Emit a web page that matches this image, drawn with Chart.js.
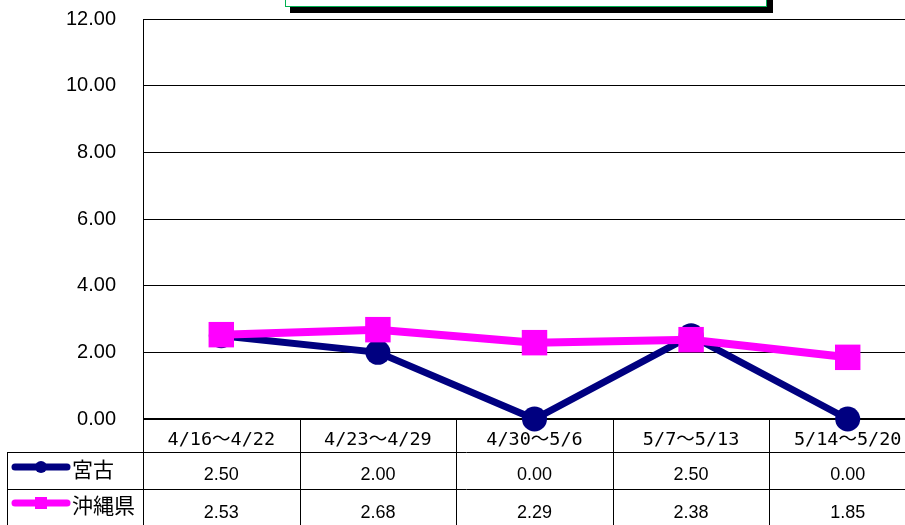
<!DOCTYPE html>
<html><head><meta charset="utf-8">
<script src="https://cdn.jsdelivr.net/npm/chart.js@4/dist/chart.umd.min.js"></script>
<style>
html,body{margin:0;padding:0;background:#fff;overflow:hidden}
#wrap{width:905px;height:525px;overflow:hidden;position:relative;background:#fff}
canvas{position:absolute;left:0;top:0}
</style></head>
<body><div id="wrap"><canvas id="c" width="926" height="525" style="width:926px;height:525px"></canvas></div>
<script>
const categories = ['4/16～4/22', '4/23～4/29', '4/30～5/6', '5/7～5/13', '5/14～5/20'];
const seriesNames = ['宮古', '沖縄県'];
const miyako = [2.50, 2.00, 0.00, 2.50, 0.00];
const okinawa = [2.53, 2.68, 2.29, 2.38, 1.85];
const yTickValues = [0, 2, 4, 6, 8, 10, 12];
const yTickLabels = ['0.00', '2.00', '4.00', '6.00', '8.00', '10.00', '12.00'];

const NAVY = '#000080';
const MAG = '#ff00ff';

const tablePlugin = {
  id: 'dataTable',
  beforeDatasetsDraw(chart) {
    const ctx = chart.ctx;
    const xs = chart.scales.x;
    const area = chart.chartArea;
    const n = categories.length;
    const colW = xs.getPixelForValue(1) - xs.getPixelForValue(0);
    const top = area.bottom;
    const hdrB = top + 33;
    const r1B = hdrB + 37;
    const bottom = 526;
    const leftEdge = 7;
    ctx.save();
    ctx.strokeStyle = '#000';
    ctx.lineWidth = 1;
    for (let i = 0; i <= n; i++) {
      const bx = Math.round(xs.getPixelForValue(0) - colW / 2 + i * colW) + 0.5;
      ctx.beginPath(); ctx.moveTo(bx, top); ctx.lineTo(bx, bottom); ctx.stroke();
    }
    ctx.beginPath(); ctx.moveTo(leftEdge + 0.5, hdrB); ctx.lineTo(leftEdge + 0.5, bottom); ctx.stroke();
    [hdrB, r1B].forEach(yy => {
      ctx.beginPath(); ctx.moveTo(leftEdge, yy + 0.5); ctx.lineTo(area.right, yy + 0.5); ctx.stroke();
    });
    ctx.fillStyle = '#000';
    ctx.textAlign = 'center';
    ctx.textBaseline = 'alphabetic';
    ctx.font = '18.5px "DejaVu Sans Mono", "Noto Sans CJK JP", monospace';
    categories.forEach((c, i) => ctx.fillText(c, xs.getPixelForValue(i), top + 26));
    ctx.font = '18px "Liberation Sans", Arial, sans-serif';
    const rows = [miyako, okinawa];
    rows.forEach((arr, r) => {
      const base = r === 0 ? hdrB + 28 : r1B + 29;
      arr.forEach((v, i) => ctx.fillText(v.toFixed(2), xs.getPixelForValue(i), base));
    });
    const ds = chart.data.datasets;
    const keyY = [hdrB + 15, r1B + 14];
    ds.forEach((d, r) => {
      const ky = keyY[r];
      ctx.strokeStyle = d.borderColor;
      ctx.lineWidth = 7;
      ctx.lineCap = 'round';
      ctx.beginPath(); ctx.moveTo(15, ky); ctx.lineTo(67, ky); ctx.stroke();
      ctx.fillStyle = d.backgroundColor;
      if (r === 0) {
        ctx.beginPath(); ctx.arc(41, ky, 6, 0, Math.PI * 2); ctx.fill();
      } else {
        ctx.fillRect(35, ky - 6, 12, 12);
      }
      ctx.fillStyle = '#000';
      ctx.textAlign = 'left';
      ctx.textBaseline = 'middle';
      ctx.font = '21px "Noto Sans CJK JP", sans-serif';
      ctx.fillText(seriesNames[r], 72, ky + 2);
    });
    ctx.restore();
  },
  afterDraw(chart) {
    const ctx = chart.ctx;
    ctx.save();
    ctx.fillStyle = '#000';
    ctx.fillRect(290, 0, 483, 13);
    ctx.fillStyle = '#fff';
    ctx.fillRect(285, 0, 482, 7);
    ctx.strokeStyle = '#00b050';
    ctx.lineWidth = 1;
    ctx.strokeRect(285.5, -2, 481, 8.5);
    ctx.restore();
  }
};

new Chart(document.getElementById('c'), {
  type: 'line',
  data: {
    labels: categories,
    datasets: [
      { label: seriesNames[0], data: miyako, borderColor: NAVY, backgroundColor: NAVY,
        borderWidth: 7, pointStyle: 'circle', pointRadius: 12.5, pointHoverRadius: 12.5,
        pointBorderWidth: 0, tension: 0, clip: false, order: 1 },
      { label: seriesNames[1], data: okinawa, borderColor: MAG, backgroundColor: MAG,
        borderWidth: 8, pointStyle: 'rect', pointRadius: 18, pointHoverRadius: 18,
        pointBorderWidth: 0, tension: 0, clip: false, order: 0 }
    ]
  },
  options: {
    responsive: false,
    animation: false,
    devicePixelRatio: 1,
    events: [],
    layout: { autoPadding: false, padding: { top: 19, bottom: 106, left: 0, right: 0 } },
    plugins: { legend: { display: false }, tooltip: { enabled: false } },
    scales: {
      x: {
        display: false, offset: true,
        afterFit(s) { s.paddingLeft = 0; s.paddingRight = 0; s.paddingTop = 0; s.paddingBottom = 0; }
      },
      y: {
        min: 0, max: 12,
        afterFit(s) { s.width = 143; s.paddingTop = 0; s.paddingBottom = 0; s.paddingLeft = 0; s.paddingRight = 0; },
        afterBuildTicks(s) { s.ticks = yTickValues.map(v => ({ value: v })); },
        ticks: {
          padding: 27, color: '#000',
          font: { family: '"Liberation Sans", Arial, sans-serif', size: 20 },
          callback: (v, i) => yTickLabels[i]
        },
        grid: { color: '#000', lineWidth: c => (c.tick && c.tick.value === 0 ? 2 : 1), drawTicks: false },
        border: { display: true, color: '#000', width: 1 }
      }
    }
  },
  plugins: [tablePlugin]
});
</script>
</body></html>
